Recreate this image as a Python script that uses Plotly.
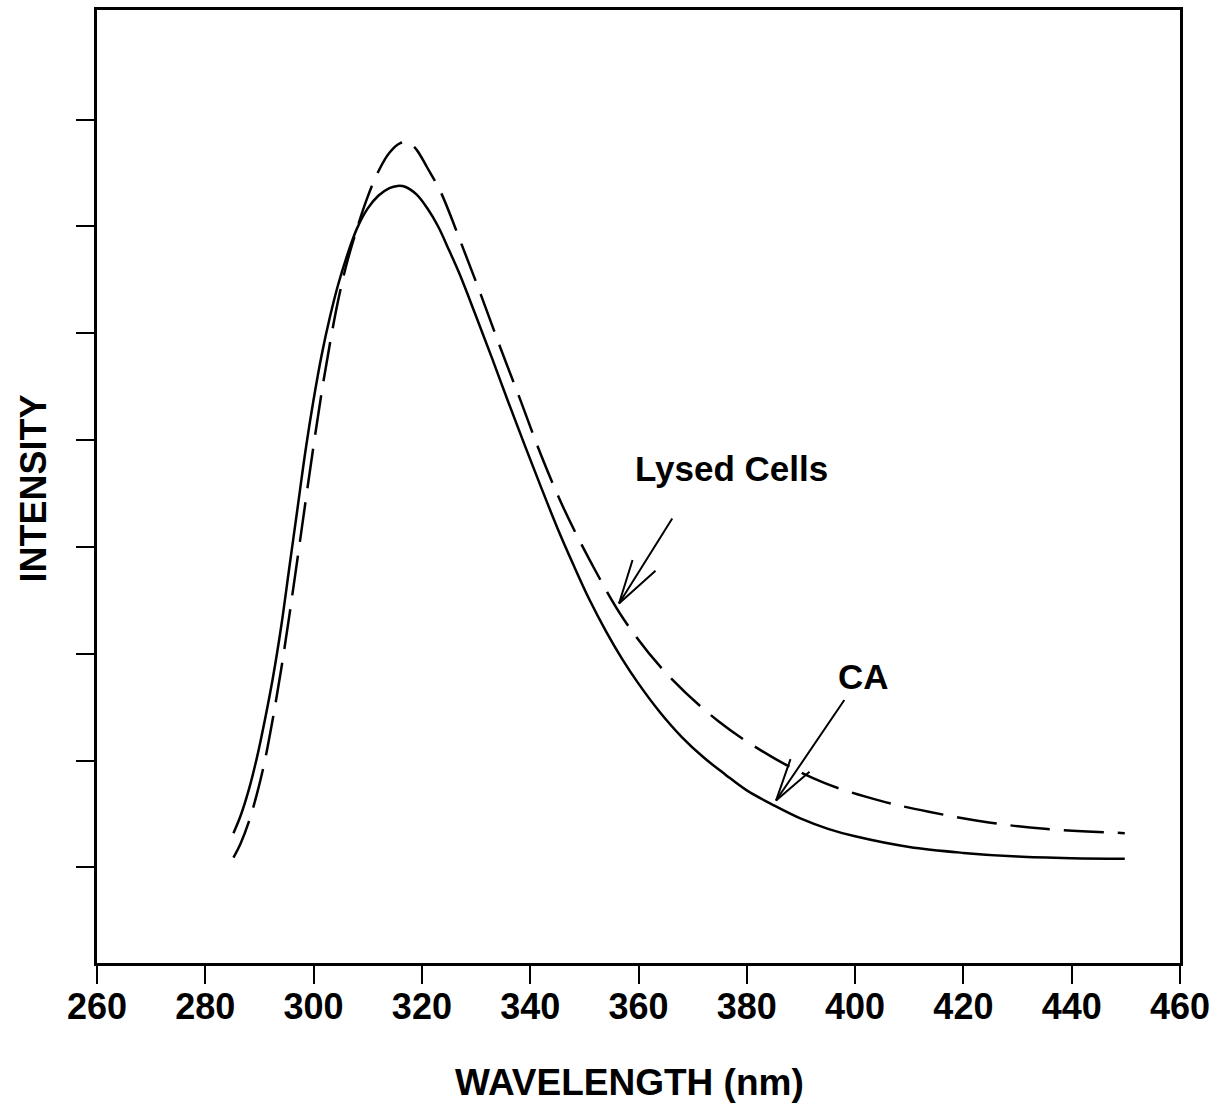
import plotly.graph_objects as go

# CA (solid) spectrum: wavelength (nm) and intensity (arbitrary units)
ca_wl = [285.2, 286.5, 288.0, 289.5, 291.0, 292.5, 294.0, 295.5, 297.0, 298.5, 300.0,
         301.5, 303.0, 304.5, 306.0, 308.0, 310.0, 312.0, 314.0, 315.5, 317.0, 319.0,
         321.0, 323.0, 325.0, 327.0, 330.0, 333.0, 336.0, 339.0, 342.0, 345.0, 348.0,
         351.0, 354.0, 357.0, 360.0, 364.0, 368.0, 372.0, 376.0, 380.0, 385.0, 390.0,
         395.0, 400.0, 410.0, 420.0, 430.0, 440.0, 449.8]
ca_int = [0.32, 0.48, 0.72, 1.02, 1.38, 1.78, 2.25, 2.80, 3.35, 3.90, 4.38,
          4.80, 5.15, 5.45, 5.70, 5.98, 6.17, 6.29, 6.36, 6.38, 6.37, 6.30,
          6.17, 6.00, 5.78, 5.55, 5.16, 4.76, 4.35, 3.95, 3.56, 3.18, 2.83,
          2.50, 2.21, 1.95, 1.72, 1.45, 1.22, 1.03, 0.87, 0.72, 0.58, 0.455,
          0.36, 0.29, 0.19, 0.135, 0.10, 0.085, 0.08]

# Lysed cells (dashed) spectrum
ly_wl = [285.2, 286.5, 288.0, 289.5, 291.0, 292.5, 294.0, 295.5, 297.0, 298.5, 300.0,
         301.5, 303.0, 304.5, 306.0, 308.0, 310.0, 312.0, 314.0, 316.0, 317.5, 319.0,
         321.0, 323.5, 327.2, 330.9, 334.6, 338.3, 342.0, 346.2, 351.8, 357.3, 364.7,
         374.7, 385.1, 394.3, 404.9, 413.6, 424.7, 435.0, 449.8]
ly_int = [0.09, 0.22, 0.42, 0.68, 1.00, 1.40, 1.85, 2.35, 2.88, 3.42, 3.95,
          4.45, 4.90, 5.30, 5.63, 5.98, 6.28, 6.52, 6.69, 6.78, 6.79, 6.72,
          6.55, 6.32, 5.85, 5.36, 4.85, 4.36, 3.86, 3.36, 2.80, 2.32, 1.84,
          1.37, 1.02, 0.79, 0.62, 0.52, 0.42, 0.36, 0.32]

x_ticks = [260, 280, 300, 320, 340, 360, 380, 400, 420, 440, 460]
y_ticks = [0, 1, 2, 3, 4, 5, 6, 7]

FONT = "Liberation Sans, Arial, sans-serif"

fig = go.Figure()
fig.add_trace(go.Scatter(x=ca_wl, y=ca_int, mode="lines", line_shape="spline",
                         line=dict(color="black", width=2.5), name="CA"))
fig.add_trace(go.Scatter(x=ly_wl, y=ly_int, mode="lines", line_shape="spline",
                         line=dict(color="black", width=2.5, dash="40px,14px"),
                         name="Lysed Cells"))

def labeled_arrow(label, lx, ly, tip_x, tip_y, tail_x, tail_y, barbs):
    fig.add_annotation(x=lx, y=ly, text="<b>" + label + "</b>", showarrow=False,
                       font=dict(family=FONT, size=35, color="black"))
    # shaft
    fig.add_annotation(x=tip_x, y=tip_y, ax=tail_x, ay=tail_y, axref="x", ayref="y",
                       text="", showarrow=True, arrowhead=0, arrowwidth=2,
                       arrowcolor="black")
    # open arrowhead barbs (pixel offsets from the tip)
    for bx, by in barbs:
        fig.add_annotation(x=tip_x, y=tip_y, ax=bx, ay=by, text="", showarrow=True,
                           arrowhead=0, arrowwidth=2, arrowcolor="black")

labeled_arrow("Lysed Cells", 377.1, 3.73, 356.4, 2.47, 366.4, 3.28,
              [(14, -45), (38, -34)])
labeled_arrow("CA", 401.5, 1.79, 385.4, 0.625, 398.2, 1.58,
              [(15, -43), (35, -30)])

# axis titles
fig.add_annotation(x=0.492, y=-0.1255, xref="paper", yref="paper",
                   xanchor="center", yanchor="middle",
                   text="<b>WAVELENGTH (nm)</b>", showarrow=False,
                   font=dict(family=FONT, size=37, color="black"))
fig.add_annotation(x=-0.0591, y=0.498, xref="paper", yref="paper", textangle=-90,
                   xanchor="center", yanchor="middle",
                   text="<b>INTENSITY</b>", showarrow=False,
                   font=dict(family=FONT, size=36, color="black"))

fig.update_layout(
    width=1222, height=1112,
    margin=dict(l=97, r=42, t=7, b=149),
    paper_bgcolor="white", plot_bgcolor="white",
    showlegend=False,
    xaxis=dict(range=[260, 460], tickvals=x_ticks, ticktext=[str(v) for v in x_ticks],
               ticks="outside", ticklen=18, tickwidth=2, tickcolor="black",
               ticklabelstandoff=-8,
               showline=True, linewidth=2.5, linecolor="black", mirror=True,
               showgrid=False, zeroline=False,
               tickfont=dict(family=FONT, size=36, color="black", weight="bold")),
    yaxis=dict(range=[-0.896, 8.027], tickvals=y_ticks,
               ticks="outside", ticklen=18, tickwidth=2, tickcolor="black",
               showticklabels=False,
               showline=True, linewidth=2.5, linecolor="black", mirror=True,
               showgrid=False, zeroline=False),
)

fig.write_html("out.html")
